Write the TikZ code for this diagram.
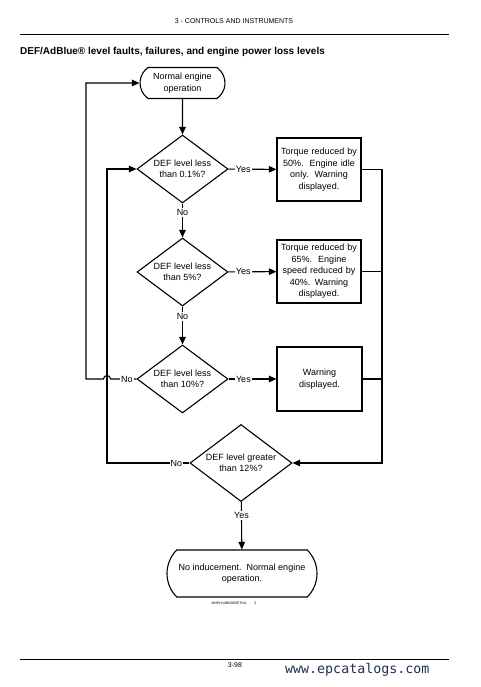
\documentclass[tikz,border=0pt]{standalone}
\usepackage{fontspec}
\setmainfont{Liberation Sans}
\newfontfamily\wwwfont{DejaVu Sans Mono}
\usetikzlibrary{shapes.geometric,shapes.misc,arrows.meta}
\definecolor{wwwcol}{HTML}{1F2D55}
\begin{document}
\begin{tikzpicture}[x=1pt,y=-1pt,
  every node/.style={font=\fontsize{9}{11.5}\selectfont},
  ln/.style={line width=1.1pt},
  arr/.style={ln,-{Triangle[length=7.5pt,width=6.5pt]}},
  dia/.style={draw,ln,diamond,inner sep=0pt},
  txt/.style={align=center,inner sep=0pt},
  boxn/.style={draw,ln,rectangle,align=center,inner sep=0pt,text width=80pt},
  term/.style={draw,ln,rounded rectangle,align=center,inner sep=0pt},
  lab/.style={fill=white,inner sep=1pt}]
\path[use as bounding box] (0,0) rectangle (480,687);
% header / footer
\node[font=\fontsize{7}{8}\selectfont] (hdr) at (234,21) {3 - CONTROLS AND INSTRUMENTS};
\draw[line width=0.9pt] (20,34) -- (449,34);
\node[anchor=west,font=\fontsize{10}{12}\selectfont\bfseries,inner sep=0pt] (title) at (20,52) {DEF/AdBlue\textregistered\ level faults, failures, and engine power loss levels};
\draw[line width=0.9pt] (20,659) -- (449,659);
\node[font=\fontsize{7}{8}\selectfont] (pg) at (235,665) {3-98};
\node[anchor=west,inner sep=0pt,font=\wwwfont\fontsize{13.3}{14}\selectfont,text=wwwcol] (www) at (285,670) {www.epcatalogs.com};
\node[font=\fontsize{3.5}{4}\selectfont] (code) at (234,603) {MHPH14BN03BETHA\hspace{8pt}2};
% nodes
\node[term,rounded rectangle arc length=110,minimum width=85pt,minimum height=31pt] (start) at (182.5,83) {Normal engine\\operation};
\node[dia,minimum width=91pt,minimum height=68pt] (d1) at (182.5,169) {};
\node[txt] (t1) at (182.5,169) {DEF level less\\than 0.1\%?};
\node[boxn,minimum width=84pt,minimum height=63pt] (b1) at (319,169.5) {Torque reduced by\\50\%.\ \ Engine idle\\only.\ \ Warning\\displayed.};
\node[dia,minimum width=91pt,minimum height=68pt] (d2) at (182.5,272) {};
\node[txt] (t2) at (182.5,272) {DEF level less\\than 5\%?};
\node[boxn,minimum width=84pt,minimum height=63pt] (b2) at (319,271.5) {Torque reduced by\\65\%.\ \ Engine\\speed reduced by\\40\%. Warning\\displayed.};
\node[dia,minimum width=91pt,minimum height=68pt] (d3) at (182.5,379) {};
\node[txt] (t3) at (182.5,379) {DEF level less\\than 10\%?};
\node[boxn,minimum width=85pt,minimum height=64pt] (b3) at (319.5,379) {Warning\\displayed.};
\node[dia,minimum width=102pt,minimum height=77pt] (d4) at (241,463) {};
\node[txt] (t4) at (241,463) {DEF level greater\\than 12\%?};
\node[term,rounded rectangle arc length=90,minimum width=150pt,minimum height=47pt] (end) at (242,573.5) {No inducement.\ \ Normal engine\\operation.};
% coordinates
\coordinate (L1) at (86,379);
\coordinate (L1t) at (86,83);
\coordinate (H) at (107,379);
\coordinate (L2) at (107,463);
\coordinate (L2t) at (107,169);
\coordinate (R1) at (382,169.5);
\coordinate (R4) at (382,463);
% connectors
\draw[arr] (start) -- (d1);
\draw[arr] (d1) -- node[lab,pos=0.26] (no1) {No} (d2);
\draw[arr] (d2) -- node[lab,pos=0.26] (no2) {No} (d3);
\draw[arr] (d1) -- node[lab,pos=0.31] (y1) {Yes} (b1);
\draw[arr] (d2) -- node[lab,pos=0.31] (y2) {Yes} (b2);
\draw[arr] (d3) -- node[lab,pos=0.31] (y3) {Yes} (b3);
\draw[arr] (d4) -- node[lab,pos=0.29] (y4) {Yes} (end);
% No of d3 back to start, with hop
\draw[arr] (d3.west) -- node[lab,pos=0.37] (no3) {No} ([xshift=3.5pt]H) arc[start angle=0,end angle=180,radius=3.5pt] -- (L1) -- (L1t) -- (start.west);
% No of d4 back to d1
\draw[arr] (d4.west) -- node[lab,pos=0.16] (no4) {No} (L2) -- (L2t) -- (d1.west);
% right side bus
\draw[arr] (b1.east) -- (R1) -- (R4) -- (d4.east);
\draw[ln] (b2.east) -- (b2.east -| R1);
\draw[ln] (b3.east) -- (b3.east -| R1);
\end{tikzpicture}
\end{document}
